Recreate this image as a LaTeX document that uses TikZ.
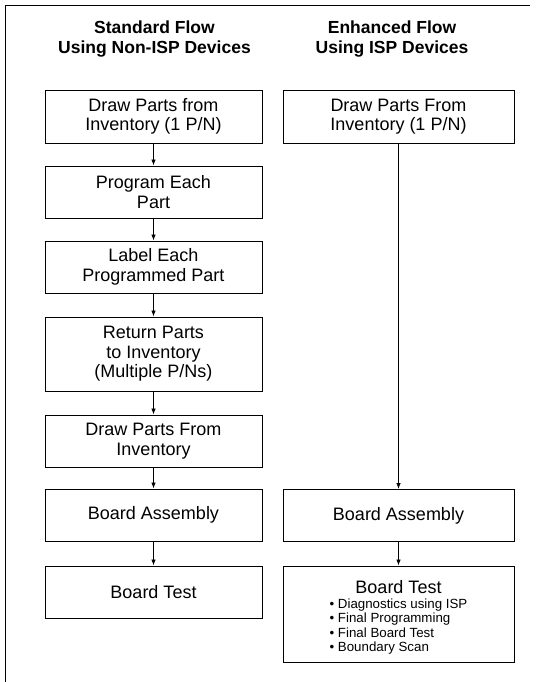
\documentclass[tikz,border=0pt]{standalone}
\usepackage{fontspec}
\setmainfont{Liberation Sans}
\usepackage{tikz}
\usetikzlibrary{arrows.meta}

\begin{document}
\begin{tikzpicture}[
      x=1pt,
      y=1pt,
      font=\fontsize{18}{19.5}\selectfont,
      stepbox/.style={
        draw=black,
        line width=0.9pt,
        align=center,
        inner sep=2pt,
        minimum height=52pt
      },
      leftbox/.style={
        stepbox,
        minimum width=217pt
      },
      rightbox/.style={
        stepbox,
        minimum width=231pt
      },
      heading/.style={
        font=\bfseries\fontsize{17.5}{19.5}\selectfont,
        align=center
      },
      flow/.style={
        -{Latex[length=6pt,width=4.5pt]},
        line width=0.8pt
      }
  ]

    \useasboundingbox (0,0) rectangle (536,-682);

    % frame
    \draw[line width=0.9pt] (5,-682) -- (5,-5) -- (530,-5);

    % headings
    \node[heading] (headL) at (154.5,-39) {Standard Flow\\Using Non-ISP Devices};
    \node[heading] (headR) at (392,-39) {Enhanced Flow\\Using ISP Devices};

    % standard flow
    \node[leftbox, minimum height=53pt] (l1) at (153.5,-116.5) {Draw Parts from\\Inventory (1 P/N)};
    \node[leftbox] (l2) at (153.5,-192) {Program Each\\Part};
    \node[leftbox] (l3) at (153.5,-267) {Label Each\\Programmed Part};
    \node[leftbox, minimum height=74pt] (l4) at (153.5,-354) {Return Parts\\to Inventory\\(Multiple P/Ns)};
    \node[leftbox] (l5) at (153.5,-441) {Draw Parts From\\Inventory};
    \node[leftbox] (l6) at (153.5,-515) {Board Assembly};
    \node[leftbox] (l7) at (153.5,-592) {Board Test};

    \foreach \a/\b in {l1/l2, l2/l3, l3/l4, l4/l5, l5/l6, l6/l7}
      \draw[flow] (\a) -- (\b);

    % enhanced flow
    \node[rightbox, minimum height=53pt] (r1) at (398.5,-116.5) {Draw Parts From\\Inventory (1 P/N)};
    \node[rightbox] (r2) at (398.5,-515.5) {Board Assembly};
    \node[rightbox, minimum height=96pt] (r3) at (398.5,-614) {%
      \rule{0pt}{21pt}Board Test\\[-4.5pt]
      {\fontsize{13.3}{14.3}\selectfont
       \begin{tabular}[t]{@{}l@{}}
         \textbullet\ Diagnostics using ISP\\
         \textbullet\ Final Programming\\
         \textbullet\ Final Board Test\\
         \textbullet\ Boundary Scan
       \end{tabular}}%
    };

    \foreach \a/\b in {r1/r2, r2/r3}
      \draw[flow] (\a) -- (\b);

  \end{tikzpicture}
\end{document}
